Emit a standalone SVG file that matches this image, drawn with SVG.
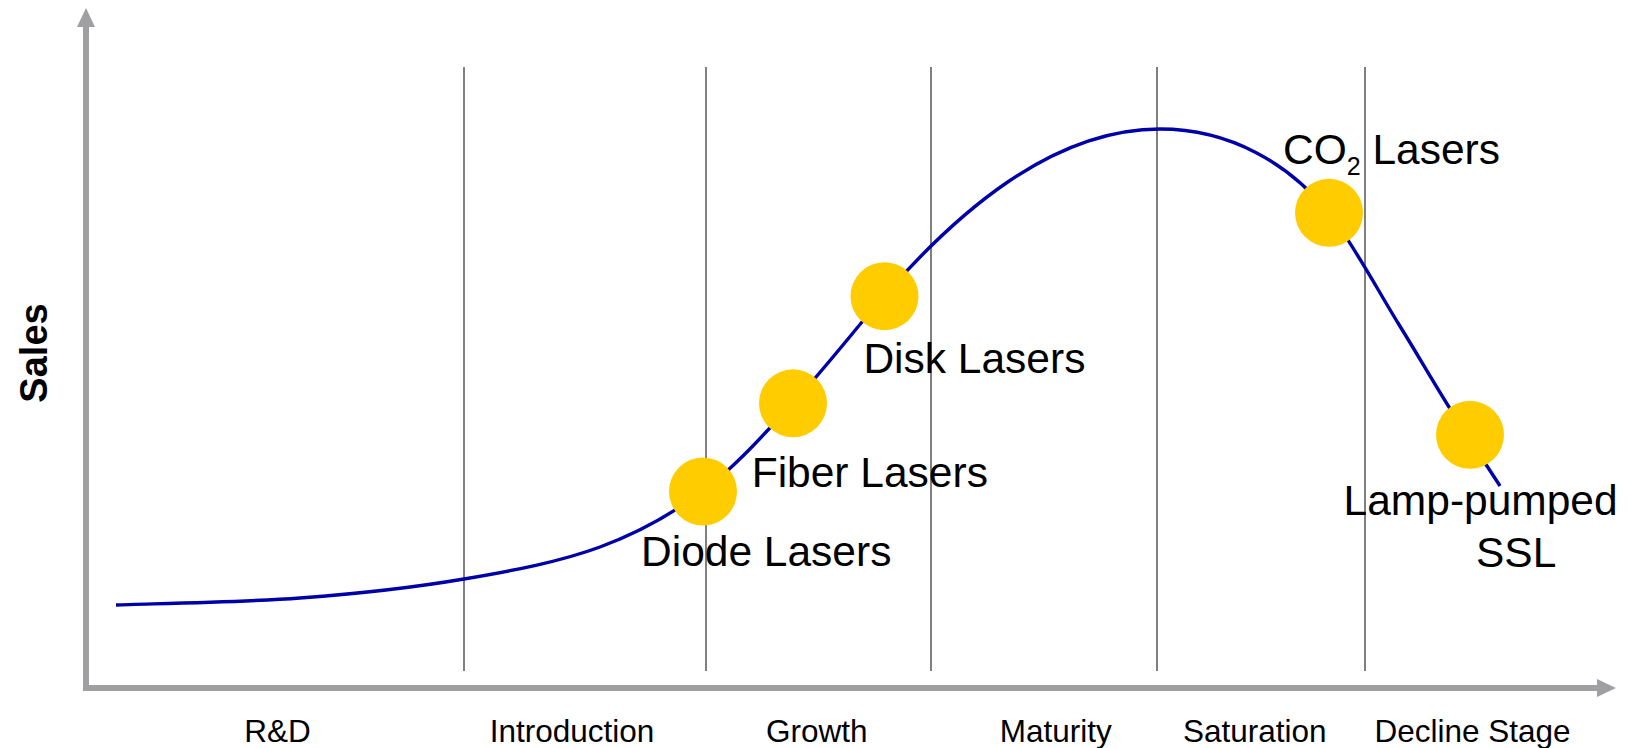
<svg xmlns="http://www.w3.org/2000/svg" width="1637" height="748" viewBox="0 0 1637 748">
  <style>
    .axis { stroke: #a0a0a2; stroke-width: 6; fill: none; }
    .head { fill: #a0a0a2; }
    .grid { stroke: #808080; stroke-width: 2; }
    .curve { stroke: #0000a8; stroke-width: 3.4; fill: none; }
    .dot { fill: #ffcc00; }
    .lbl { font-family: "Liberation Sans", Arial, sans-serif; font-size: 42.5px; fill: #000; }
    .stage { font-family: "Liberation Sans", Arial, sans-serif; font-size: 31.5px; fill: #000; text-anchor: middle; }
    .ytitle { font-family: "Liberation Sans", Arial, sans-serif; font-size: 38px; font-weight: bold; fill: #000; text-anchor: middle; }
  </style>
  <rect width="1637" height="748" fill="#ffffff"/>

  <!-- stage separators -->
  <g id="gridlines">
    <line class="grid" x1="464" y1="67" x2="464" y2="671"/>
    <line class="grid" x1="706" y1="67" x2="706" y2="671"/>
    <line class="grid" x1="931" y1="67" x2="931" y2="671"/>
    <line class="grid" x1="1157" y1="67" x2="1157" y2="671"/>
    <line class="grid" x1="1365" y1="67" x2="1365" y2="671"/>
  </g>

  <!-- axes -->
  <g id="axes">
    <path class="axis" d="M86,27 V688 H1598"/>
    <polygon class="head" points="77,27 86,8 95,27"/>
    <polygon class="head" points="1597,679 1616,688 1597,697"/>
  </g>

  <!-- sales curve -->
  <g id="connectors">
    <path class="curve" d="M116,605 C146.7,603.8 242,602.3 300,598 C358,593.7 414,587.5 464,579 C514,570.5 560.2,561.7 600,547 C639.8,532.3 670.8,515 703,491 C735.2,467 762.8,435.5 793,403 C823.2,370.5 859.5,324 884,296 C954,216 1050,129 1160,129 C1230,129 1289,163.4 1329,213 C1351.2,240.5 1378,290.7 1398,323 C1418,355.3 1432,379.8 1449,407 C1466,434.2 1491.5,472.8 1500,486"/>
  </g>

  <!-- technology markers -->
  <g id="diode">
    <circle class="dot" cx="703" cy="491.5" r="34"/>
    <text class="lbl" x="641" y="565.5">Diode Lasers</text>
  </g>
  <g id="fiber">
    <circle class="dot" cx="793" cy="403.3" r="34"/>
    <text class="lbl" x="751.7" y="487.3">Fiber Lasers</text>
  </g>
  <g id="disk">
    <circle class="dot" cx="884.5" cy="296.2" r="34"/>
    <text class="lbl" x="863.4" y="373.3">Disk Lasers</text>
  </g>
  <g id="co2">
    <circle class="dot" cx="1329" cy="212.8" r="34"/>
    <text class="lbl" x="1283" y="164">CO<tspan font-size="25" dy="11">2</tspan><tspan dy="-11"> Lasers</tspan></text>
  </g>
  <g id="lamp">
    <circle class="dot" cx="1470" cy="434.8" r="34"/>
    <text class="lbl" x="1343.6" y="515">Lamp-pumped</text>
    <text class="lbl" x="1476" y="566.7">SSL</text>
  </g>

  <!-- axis titles -->
  <g id="y-title">
    <text class="ytitle" transform="translate(47,353) rotate(-90)">Sales</text>
  </g>
  <g id="stages">
    <text class="stage" x="277.5" y="741.5">R&amp;D</text>
    <text class="stage" x="572" y="741.5">Introduction</text>
    <text class="stage" x="816.7" y="741.5">Growth</text>
    <text class="stage" x="1055.8" y="741.5">Maturity</text>
    <text class="stage" x="1254.7" y="741.5">Saturation</text>
    <text class="stage" x="1472.5" y="741.5">Decline Stage</text>
  </g>
</svg>
